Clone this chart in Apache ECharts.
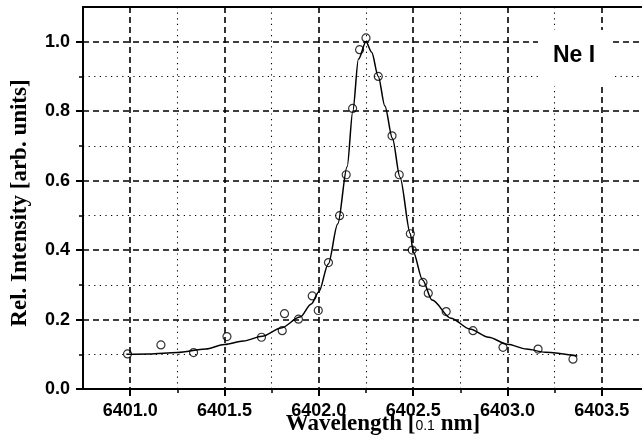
<!DOCTYPE html>
<html>
<head>
<meta charset="utf-8">
<script src="https://cdn.jsdelivr.net/npm/echarts@6/dist/echarts.min.js"></script>
<style>
html,body{margin:0;padding:0;background:#fff;}
#chart{width:642px;height:445px;}
</style>
</head>
<body>
<div id="chart"></div>
<script>
// Measured points (wavelength [0.1 nm], relative intensity)
const measuredX = [6400.986, 6401.163, 6401.336, 6401.513, 6401.696, 6401.806, 6401.818, 6401.892, 6401.965, 6401.997, 6402.051, 6402.110, 6402.145, 6402.179, 6402.216, 6402.250, 6402.315, 6402.388, 6402.426, 6402.485, 6402.495, 6402.552, 6402.580, 6402.675, 6402.817, 6402.976, 6403.162, 6403.347];
const measuredY = [0.101, 0.127, 0.105, 0.151, 0.149, 0.168, 0.217, 0.201, 0.268, 0.226, 0.364, 0.499, 0.617, 0.808, 0.977, 1.011, 0.900, 0.729, 0.617, 0.447, 0.400, 0.307, 0.276, 0.223, 0.168, 0.120, 0.115, 0.086];

// Fitted profile
const fitX = [6400.98, 6401.10, 6401.25, 6401.40, 6401.50, 6401.60, 6401.70, 6401.80, 6401.90, 6401.96, 6402.00, 6402.05, 6402.10, 6402.15, 6402.18, 6402.21, 6402.25, 6402.28, 6402.315, 6402.35, 6402.39, 6402.43, 6402.485, 6402.50, 6402.55, 6402.60, 6402.70, 6402.80, 6402.90, 6403.00, 6403.10, 6403.20, 6403.37];
const fitY = [0.100, 0.101, 0.105, 0.115, 0.128, 0.138, 0.152, 0.176, 0.207, 0.245, 0.280, 0.360, 0.475, 0.640, 0.800, 0.950, 1.000, 0.970, 0.900, 0.815, 0.722, 0.610, 0.447, 0.395, 0.314, 0.256, 0.204, 0.173, 0.149, 0.129, 0.115, 0.106, 0.095];

// Tick positions
const xMajorTicks = [6401.0, 6401.5, 6402.0, 6402.5, 6403.0, 6403.5];
const xMinorTicks = [6401.25, 6401.75, 6402.25, 6402.75, 6403.25];
const yMajorTicks = [0.0, 0.2, 0.4, 0.6, 0.8, 1.0];
const yMinorTicks = [0.1, 0.3, 0.5, 0.7, 0.9];

const chart = echarts.init(document.getElementById('chart'), null, {renderer: 'canvas'});

const tickFont = {fontFamily: '"Liberation Sans", Arial, sans-serif', fontWeight: 'bold', fontSize: 18, color: '#000'};
const dashed = {color: '#000', width: 1.6, type: [6, 4]};
const dotted = {color: '#000', width: 1.1, type: [1.2, 4.4]};

const option = {
  backgroundColor: '#fff',
  animation: false,
  grid: {left: 83, top: 7, bottom: 56, right: -7, outerBoundsMode: 'none', containLabel: false, show: true, borderColor: '#000', borderWidth: 2, backgroundColor: 'transparent'},
  xAxis: [
    {
      type: 'value', position: 'bottom', min: 6400.75, max: 6403.75,
      axisLine: {show: true, lineStyle: {color: '#000', width: 2}},
      axisTick: {show: true, customValues: xMajorTicks, length: 7, lineStyle: {color: '#000', width: 2}},
      axisLabel: {show: true, customValues: xMajorTicks, margin: 13, formatter: v => v.toFixed(1), ...tickFont},
      splitLine: {show: true, lineStyle: dashed}
    },
    {
      type: 'value', position: 'top', offset: -382, min: 6400.75, max: 6403.75,
      axisLine: {show: false},
      axisTick: {show: true, inside: true, customValues: xMinorTicks, length: 4, lineStyle: {color: '#000', width: 1.5}},
      axisLabel: {show: false},
      splitLine: {show: true, lineStyle: dotted}
    }
  ],
  yAxis: [
    {
      type: 'value', position: 'left', min: 0, max: 1.1,
      axisLine: {show: true, lineStyle: {color: '#000', width: 2}},
      axisTick: {show: true, customValues: yMajorTicks, length: 7, lineStyle: {color: '#000', width: 2}},
      axisLabel: {show: true, customValues: yMajorTicks, margin: 13, formatter: v => v.toFixed(1), ...tickFont},
      splitLine: {show: true, lineStyle: dashed}
    },
    {
      type: 'value', position: 'right', offset: -566, min: 0, max: 1.1,
      axisLine: {show: false},
      axisTick: {show: true, inside: true, customValues: yMinorTicks, length: 4, lineStyle: {color: '#000', width: 1.5}},
      axisLabel: {show: false},
      splitLine: {show: true, lineStyle: dotted}
    }
  ],
  series: [
    {
      type: 'line', xAxisIndex: 0, yAxisIndex: 0,
      data: fitX.map((x, i) => [x, fitY[i]]),
      smooth: 0.3, smoothMonotone: 'x', showSymbol: false, symbol: 'none',
      lineStyle: {color: '#000', width: 1.5}, z: 3
    },
    {
      type: 'scatter', xAxisIndex: 0, yAxisIndex: 0,
      data: measuredX.map((x, i) => [x, measuredY[i]]),
      symbol: 'circle', symbolSize: 8,
      itemStyle: {color: 'rgba(0,0,0,0)', borderColor: '#000', borderWidth: 1.2}, z: 4
    }
  ],
  graphic: [
    {type: 'rect', shape: {x: 538, y: 30, width: 74, height: 56}, style: {fill: '#fff'}, z: 100},
    {type: 'text', x: 574, y: 56, z: 101, style: {text: 'Ne I', font: 'bold 23px "Liberation Sans", Arial, sans-serif', fill: '#000', textAlign: 'center', textVerticalAlign: 'middle'}},
    {type: 'text', x: 20, y: 203, rotation: Math.PI / 2, z: 101, style: {text: 'Rel. Intensity [arb. units]', font: 'bold 23px "Liberation Serif", "Times New Roman", serif', fill: '#000', textAlign: 'center', textVerticalAlign: 'middle'}},
    {type: 'text', x: 383, y: 424, z: 101, style: {
      text: '{a|Wavelength [}{b|0.1}{a| nm]}',
      textAlign: 'center', textVerticalAlign: 'middle',
      rich: {
        a: {font: 'bold 23px "Liberation Serif", "Times New Roman", serif', fill: '#000', color: '#000'},
        b: {font: '14px "Liberation Sans", Arial, sans-serif', fill: '#000', color: '#000', padding: [4, 0, 0, 0]}
      }
    }}
  ]
};
chart.setOption(option);
</script>
</body>
</html>
